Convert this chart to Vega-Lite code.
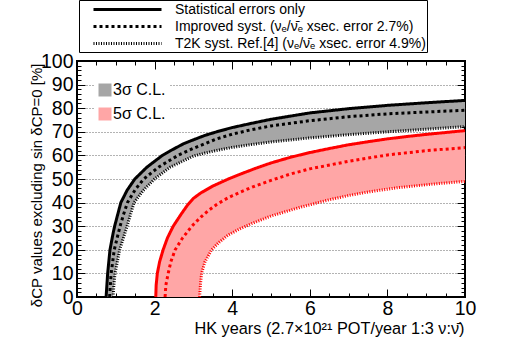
{
  "$schema": "https://vega.github.io/schema/vega-lite/v6.json",
  "width": 388,
  "height": 236,
  "autosize": {"type": "none"},
  "padding": {"left": 77, "top": 61, "right": 53, "bottom": 53},
  "background": "white",
  "config": {
    "font": "Liberation Sans",
    "view": {"stroke": "black", "strokeWidth": 2},
    "axis": {"domain": false, "labelFont": "Liberation Sans", "labelFontSize": 19.5, "labelColor": "black", "tickColor": "black", "tickWidth": 1, "titleFont": "Liberation Sans", "titleColor": "black", "titleFontWeight": "normal", "grid": false, "labelFlush": false, "labelOverlap": false},
    "legend": {"labelFont": "Liberation Sans", "labelColor": "black"}
  },
  "datasets": {
    "systs": [
      {"s": "stat", "label": "Statistical errors only"},
      {"s": "imp", "label": "Improved syst. (\u03bd\u2091/\u03bd\u0304\u2091 xsec. error 2.7%)"},
      {"s": "t2k", "label": "T2K syst. Ref.[4] (\u03bd\u2091/\u03bd\u0304\u2091 xsec. error 4.9%)"}
    ],
    "bands": [
      {"c": "3σ C.L.", "x": 0.75, "hi": 0, "lo": 0},
      {"c": "3σ C.L.", "x": 0.77, "hi": 5, "lo": 0},
      {"c": "3σ C.L.", "x": 0.79, "hi": 10, "lo": 0},
      {"c": "3σ C.L.", "x": 0.85, "hi": 20, "lo": 0},
      {"c": "3σ C.L.", "x": 0.93, "hi": 27, "lo": 0},
      {"c": "3σ C.L.", "x": 0.95, "hi": 28.5, "lo": 5},
      {"c": "3σ C.L.", "x": 0.97, "hi": 30, "lo": 8},
      {"c": "3σ C.L.", "x": 0.98, "hi": 30.6, "lo": 10},
      {"c": "3σ C.L.", "x": 1.05, "hi": 35, "lo": 16},
      {"c": "3σ C.L.", "x": 1.1, "hi": 37.8, "lo": 20},
      {"c": "3σ C.L.", "x": 1.13, "hi": 40, "lo": 21.6},
      {"c": "3σ C.L.", "x": 1.29, "hi": 45.2, "lo": 30},
      {"c": "3σ C.L.", "x": 1.38, "hi": 47.5, "lo": 35},
      {"c": "3σ C.L.", "x": 1.47, "hi": 49.6, "lo": 40},
      {"c": "3σ C.L.", "x": 1.49, "hi": 50, "lo": 40.4},
      {"c": "3σ C.L.", "x": 1.7, "hi": 53.5, "lo": 45},
      {"c": "3σ C.L.", "x": 1.8, "hi": 55, "lo": 46.7},
      {"c": "3σ C.L.", "x": 2.0, "hi": 57.5, "lo": 50},
      {"c": "3σ C.L.", "x": 2.2, "hi": 60, "lo": 52.5},
      {"c": "3σ C.L.", "x": 2.4, "hi": 61.9, "lo": 55},
      {"c": "3σ C.L.", "x": 2.74, "hi": 64.9, "lo": 57.6},
      {"c": "3σ C.L.", "x": 3.0, "hi": 66.6, "lo": 59.7},
      {"c": "3σ C.L.", "x": 3.3, "hi": 68.5, "lo": 61},
      {"c": "3σ C.L.", "x": 3.6, "hi": 70, "lo": 62.1},
      {"c": "3σ C.L.", "x": 4.0, "hi": 71.8, "lo": 63.4},
      {"c": "3σ C.L.", "x": 4.5, "hi": 73.6, "lo": 64.6},
      {"c": "3σ C.L.", "x": 5.0, "hi": 75.3, "lo": 65.7},
      {"c": "3σ C.L.", "x": 6.0, "hi": 78, "lo": 67.4},
      {"c": "3σ C.L.", "x": 7.0, "hi": 79.8, "lo": 68.8},
      {"c": "3σ C.L.", "x": 8.0, "hi": 81.2, "lo": 70},
      {"c": "3σ C.L.", "x": 9.0, "hi": 82.3, "lo": 71.1},
      {"c": "3σ C.L.", "x": 10, "hi": 83.3, "lo": 72.2},
      {"c": "5σ C.L.", "x": 2.03, "hi": 0, "lo": 0},
      {"c": "5σ C.L.", "x": 2.04, "hi": 5, "lo": 0},
      {"c": "5σ C.L.", "x": 2.07, "hi": 10, "lo": 0},
      {"c": "5σ C.L.", "x": 2.13, "hi": 15, "lo": 0},
      {"c": "5σ C.L.", "x": 2.22, "hi": 20, "lo": 0},
      {"c": "5σ C.L.", "x": 2.33, "hi": 25, "lo": 0},
      {"c": "5σ C.L.", "x": 2.48, "hi": 30, "lo": 0},
      {"c": "5σ C.L.", "x": 2.68, "hi": 35, "lo": 0},
      {"c": "5σ C.L.", "x": 2.85, "hi": 39, "lo": 0},
      {"c": "5σ C.L.", "x": 3.0, "hi": 41.8, "lo": 0},
      {"c": "5σ C.L.", "x": 3.16, "hi": 43.7, "lo": 0},
      {"c": "5σ C.L.", "x": 3.18, "hi": 43.95, "lo": 5},
      {"c": "5σ C.L.", "x": 3.2, "hi": 44.2, "lo": 8.3},
      {"c": "5σ C.L.", "x": 3.21, "hi": 44.3, "lo": 10},
      {"c": "5σ C.L.", "x": 3.3, "hi": 45.1, "lo": 15},
      {"c": "5σ C.L.", "x": 3.47, "hi": 46.7, "lo": 20},
      {"c": "5σ C.L.", "x": 3.5, "hi": 47, "lo": 20.5},
      {"c": "5σ C.L.", "x": 3.65, "hi": 48.1, "lo": 23},
      {"c": "5σ C.L.", "x": 3.9, "hi": 50, "lo": 26.3},
      {"c": "5σ C.L.", "x": 4.2, "hi": 52, "lo": 28.9},
      {"c": "5σ C.L.", "x": 4.5, "hi": 53.9, "lo": 31.1},
      {"c": "5σ C.L.", "x": 4.6, "hi": 54.5, "lo": 31.7},
      {"c": "5σ C.L.", "x": 5.0, "hi": 56.8, "lo": 34.3},
      {"c": "5σ C.L.", "x": 5.5, "hi": 59.2, "lo": 36.8},
      {"c": "5σ C.L.", "x": 5.75, "hi": 60.2, "lo": 38},
      {"c": "5σ C.L.", "x": 6.0, "hi": 61.2, "lo": 39.1},
      {"c": "5σ C.L.", "x": 6.5, "hi": 62.9, "lo": 41.2},
      {"c": "5σ C.L.", "x": 7.0, "hi": 64.5, "lo": 43},
      {"c": "5σ C.L.", "x": 7.5, "hi": 65.8, "lo": 44.5},
      {"c": "5σ C.L.", "x": 8.0, "hi": 67, "lo": 45.9},
      {"c": "5σ C.L.", "x": 8.3, "hi": 67.6, "lo": 46.4},
      {"c": "5σ C.L.", "x": 8.5, "hi": 68, "lo": 46.7},
      {"c": "5σ C.L.", "x": 9.0, "hi": 68.9, "lo": 47.5},
      {"c": "5σ C.L.", "x": 9.2, "hi": 69.2, "lo": 47.9},
      {"c": "5σ C.L.", "x": 9.5, "hi": 69.7, "lo": 48.3},
      {"c": "5σ C.L.", "x": 10, "hi": 70.5, "lo": 49}
    ],
    "curves": [
      {"c": "3σ C.L.", "s": "stat", "x": 0.75, "y": 0},
      {"c": "3σ C.L.", "s": "stat", "x": 0.77, "y": 5},
      {"c": "3σ C.L.", "s": "stat", "x": 0.79, "y": 10},
      {"c": "3σ C.L.", "s": "stat", "x": 0.85, "y": 20},
      {"c": "3σ C.L.", "s": "stat", "x": 0.93, "y": 27},
      {"c": "3σ C.L.", "s": "stat", "x": 0.97, "y": 30},
      {"c": "3σ C.L.", "s": "stat", "x": 1.05, "y": 35},
      {"c": "3σ C.L.", "s": "stat", "x": 1.13, "y": 40},
      {"c": "3σ C.L.", "s": "stat", "x": 1.29, "y": 45.2},
      {"c": "3σ C.L.", "s": "stat", "x": 1.49, "y": 50},
      {"c": "3σ C.L.", "s": "stat", "x": 1.8, "y": 55},
      {"c": "3σ C.L.", "s": "stat", "x": 2.0, "y": 57.5},
      {"c": "3σ C.L.", "s": "stat", "x": 2.2, "y": 60},
      {"c": "3σ C.L.", "s": "stat", "x": 2.4, "y": 61.9},
      {"c": "3σ C.L.", "s": "stat", "x": 2.74, "y": 64.9},
      {"c": "3σ C.L.", "s": "stat", "x": 3.0, "y": 66.6},
      {"c": "3σ C.L.", "s": "stat", "x": 3.3, "y": 68.5},
      {"c": "3σ C.L.", "s": "stat", "x": 3.6, "y": 70},
      {"c": "3σ C.L.", "s": "stat", "x": 4.0, "y": 71.8},
      {"c": "3σ C.L.", "s": "stat", "x": 4.5, "y": 73.6},
      {"c": "3σ C.L.", "s": "stat", "x": 5, "y": 75.3},
      {"c": "3σ C.L.", "s": "stat", "x": 6, "y": 78},
      {"c": "3σ C.L.", "s": "stat", "x": 7, "y": 79.8},
      {"c": "3σ C.L.", "s": "stat", "x": 8, "y": 81.2},
      {"c": "3σ C.L.", "s": "stat", "x": 9, "y": 82.3},
      {"c": "3σ C.L.", "s": "stat", "x": 10, "y": 83.3},
      {"c": "3σ C.L.", "s": "imp", "x": 0.84, "y": 0},
      {"c": "3σ C.L.", "s": "imp", "x": 0.86, "y": 5},
      {"c": "3σ C.L.", "s": "imp", "x": 0.88, "y": 10},
      {"c": "3σ C.L.", "s": "imp", "x": 0.96, "y": 20},
      {"c": "3σ C.L.", "s": "imp", "x": 1.11, "y": 30},
      {"c": "3σ C.L.", "s": "imp", "x": 1.2, "y": 35},
      {"c": "3σ C.L.", "s": "imp", "x": 1.3, "y": 40},
      {"c": "3σ C.L.", "s": "imp", "x": 1.5, "y": 45.5},
      {"c": "3σ C.L.", "s": "imp", "x": 1.72, "y": 50},
      {"c": "3σ C.L.", "s": "imp", "x": 2.1, "y": 55},
      {"c": "3σ C.L.", "s": "imp", "x": 2.6, "y": 60},
      {"c": "3σ C.L.", "s": "imp", "x": 3.0, "y": 63},
      {"c": "3σ C.L.", "s": "imp", "x": 3.3, "y": 65},
      {"c": "3σ C.L.", "s": "imp", "x": 3.6, "y": 67},
      {"c": "3σ C.L.", "s": "imp", "x": 4.0, "y": 69},
      {"c": "3σ C.L.", "s": "imp", "x": 4.5, "y": 70.9},
      {"c": "3σ C.L.", "s": "imp", "x": 5, "y": 72.5},
      {"c": "3σ C.L.", "s": "imp", "x": 6, "y": 74.7},
      {"c": "3σ C.L.", "s": "imp", "x": 7, "y": 76.4},
      {"c": "3σ C.L.", "s": "imp", "x": 8, "y": 77.6},
      {"c": "3σ C.L.", "s": "imp", "x": 9, "y": 78.4},
      {"c": "3σ C.L.", "s": "imp", "x": 10, "y": 79.1},
      {"c": "3σ C.L.", "s": "t2k", "x": 0.93, "y": 0},
      {"c": "3σ C.L.", "s": "t2k", "x": 0.95, "y": 5},
      {"c": "3σ C.L.", "s": "t2k", "x": 0.98, "y": 10},
      {"c": "3σ C.L.", "s": "t2k", "x": 1.1, "y": 20},
      {"c": "3σ C.L.", "s": "t2k", "x": 1.29, "y": 30},
      {"c": "3σ C.L.", "s": "t2k", "x": 1.38, "y": 35},
      {"c": "3σ C.L.", "s": "t2k", "x": 1.47, "y": 40},
      {"c": "3σ C.L.", "s": "t2k", "x": 1.7, "y": 45},
      {"c": "3σ C.L.", "s": "t2k", "x": 2.0, "y": 50},
      {"c": "3σ C.L.", "s": "t2k", "x": 2.4, "y": 55},
      {"c": "3σ C.L.", "s": "t2k", "x": 3.0, "y": 59.7},
      {"c": "3σ C.L.", "s": "t2k", "x": 3.3, "y": 61},
      {"c": "3σ C.L.", "s": "t2k", "x": 3.6, "y": 62.1},
      {"c": "3σ C.L.", "s": "t2k", "x": 4.0, "y": 63.4},
      {"c": "3σ C.L.", "s": "t2k", "x": 4.5, "y": 64.6},
      {"c": "3σ C.L.", "s": "t2k", "x": 5, "y": 65.7},
      {"c": "3σ C.L.", "s": "t2k", "x": 6, "y": 67.4},
      {"c": "3σ C.L.", "s": "t2k", "x": 7, "y": 68.8},
      {"c": "3σ C.L.", "s": "t2k", "x": 8, "y": 70},
      {"c": "3σ C.L.", "s": "t2k", "x": 9, "y": 71.1},
      {"c": "3σ C.L.", "s": "t2k", "x": 10, "y": 72.2},
      {"c": "5σ C.L.", "s": "stat", "x": 2.03, "y": 0},
      {"c": "5σ C.L.", "s": "stat", "x": 2.04, "y": 5},
      {"c": "5σ C.L.", "s": "stat", "x": 2.07, "y": 10},
      {"c": "5σ C.L.", "s": "stat", "x": 2.13, "y": 15},
      {"c": "5σ C.L.", "s": "stat", "x": 2.22, "y": 20},
      {"c": "5σ C.L.", "s": "stat", "x": 2.33, "y": 25},
      {"c": "5σ C.L.", "s": "stat", "x": 2.48, "y": 30},
      {"c": "5σ C.L.", "s": "stat", "x": 2.68, "y": 35},
      {"c": "5σ C.L.", "s": "stat", "x": 2.85, "y": 39},
      {"c": "5σ C.L.", "s": "stat", "x": 3.0, "y": 41.8},
      {"c": "5σ C.L.", "s": "stat", "x": 3.2, "y": 44.2},
      {"c": "5σ C.L.", "s": "stat", "x": 3.5, "y": 47},
      {"c": "5σ C.L.", "s": "stat", "x": 3.9, "y": 50},
      {"c": "5σ C.L.", "s": "stat", "x": 4.2, "y": 52},
      {"c": "5σ C.L.", "s": "stat", "x": 4.6, "y": 54.5},
      {"c": "5σ C.L.", "s": "stat", "x": 5, "y": 56.8},
      {"c": "5σ C.L.", "s": "stat", "x": 5.5, "y": 59.2},
      {"c": "5σ C.L.", "s": "stat", "x": 6, "y": 61.2},
      {"c": "5σ C.L.", "s": "stat", "x": 6.5, "y": 62.9},
      {"c": "5σ C.L.", "s": "stat", "x": 7, "y": 64.5},
      {"c": "5σ C.L.", "s": "stat", "x": 7.5, "y": 65.8},
      {"c": "5σ C.L.", "s": "stat", "x": 8, "y": 67},
      {"c": "5σ C.L.", "s": "stat", "x": 8.5, "y": 68},
      {"c": "5σ C.L.", "s": "stat", "x": 9, "y": 68.9},
      {"c": "5σ C.L.", "s": "stat", "x": 9.5, "y": 69.7},
      {"c": "5σ C.L.", "s": "stat", "x": 10, "y": 70.5},
      {"c": "5σ C.L.", "s": "imp", "x": 2.27, "y": 0},
      {"c": "5σ C.L.", "s": "imp", "x": 2.29, "y": 5},
      {"c": "5σ C.L.", "s": "imp", "x": 2.35, "y": 10},
      {"c": "5σ C.L.", "s": "imp", "x": 2.42, "y": 15},
      {"c": "5σ C.L.", "s": "imp", "x": 2.53, "y": 20},
      {"c": "5σ C.L.", "s": "imp", "x": 2.72, "y": 25},
      {"c": "5σ C.L.", "s": "imp", "x": 2.96, "y": 30},
      {"c": "5σ C.L.", "s": "imp", "x": 3.2, "y": 34},
      {"c": "5σ C.L.", "s": "imp", "x": 3.4, "y": 36.8},
      {"c": "5σ C.L.", "s": "imp", "x": 3.6, "y": 39.2},
      {"c": "5σ C.L.", "s": "imp", "x": 3.8, "y": 41.2},
      {"c": "5σ C.L.", "s": "imp", "x": 4.0, "y": 42.9},
      {"c": "5σ C.L.", "s": "imp", "x": 4.3, "y": 45.1},
      {"c": "5σ C.L.", "s": "imp", "x": 4.6, "y": 47.1},
      {"c": "5σ C.L.", "s": "imp", "x": 5, "y": 49.4},
      {"c": "5σ C.L.", "s": "imp", "x": 5.5, "y": 52.1},
      {"c": "5σ C.L.", "s": "imp", "x": 6, "y": 54.3},
      {"c": "5σ C.L.", "s": "imp", "x": 7, "y": 57.5},
      {"c": "5σ C.L.", "s": "imp", "x": 8, "y": 60.2},
      {"c": "5σ C.L.", "s": "imp", "x": 9, "y": 62},
      {"c": "5σ C.L.", "s": "imp", "x": 10, "y": 63.3},
      {"c": "5σ C.L.", "s": "t2k", "x": 3.16, "y": 0},
      {"c": "5σ C.L.", "s": "t2k", "x": 3.18, "y": 5},
      {"c": "5σ C.L.", "s": "t2k", "x": 3.21, "y": 10},
      {"c": "5σ C.L.", "s": "t2k", "x": 3.3, "y": 15},
      {"c": "5σ C.L.", "s": "t2k", "x": 3.47, "y": 20},
      {"c": "5σ C.L.", "s": "t2k", "x": 3.65, "y": 23},
      {"c": "5σ C.L.", "s": "t2k", "x": 3.9, "y": 26.3},
      {"c": "5σ C.L.", "s": "t2k", "x": 4.2, "y": 28.9},
      {"c": "5σ C.L.", "s": "t2k", "x": 4.5, "y": 31.1},
      {"c": "5σ C.L.", "s": "t2k", "x": 5, "y": 34.3},
      {"c": "5σ C.L.", "s": "t2k", "x": 5.75, "y": 38},
      {"c": "5σ C.L.", "s": "t2k", "x": 6.5, "y": 41.2},
      {"c": "5σ C.L.", "s": "t2k", "x": 7, "y": 43},
      {"c": "5σ C.L.", "s": "t2k", "x": 7.5, "y": 44.5},
      {"c": "5σ C.L.", "s": "t2k", "x": 8.3, "y": 46.4},
      {"c": "5σ C.L.", "s": "t2k", "x": 9.2, "y": 47.9},
      {"c": "5σ C.L.", "s": "t2k", "x": 10, "y": 49}
    ]
  },
  "resolve": {"axis": {"x": "independent", "y": "independent"}},
  "layer": [
    {
      "data": {"name": "bands"},
      "mark": {"type": "area", "opacity": 1},
      "encoding": {
        "x": {"field": "x", "type": "quantitative", "scale": {"domain": [0, 10], "nice": false, "zero": false},
          "axis": {"orient": "bottom", "values": [0, 2, 4, 6, 8, 10], "tickSize": -8, "labelPadding": 10, "grid": false,
            "title": "HK years (2.7\u00d710\u00b2\u00b9 POT/year 1:3 \u03bd:\u03bd\u0304)", "titleFontSize": 16.3, "titleAnchor": "end", "titleAlign": "right", "titleBaseline": "alphabetic", "titleX": 387, "titleY": 36}},
        "y": {"field": "hi", "type": "quantitative", "scale": {"domain": [0, 100], "nice": false, "zero": false},
          "axis": {"orient": "left", "values": [0, 10, 20, 30, 40, 50, 60, 70, 80, 90, 100], "tickSize": -8, "labelPadding": 12,
            "grid": true, "gridColor": "#666666", "gridDash": [1, 2], "gridWidth": 1,
            "gridOpacity": {"condition": {"test": "datum.value == 0 || datum.value == 100", "value": 0}, "value": 1},
            "title": "\u03b4CP values excluding sin \u03b4CP=0 [%]", "titleFontSize": 15, "titleAngle": 270, "titleAnchor": "end", "titleAlign": "right", "titleBaseline": "alphabetic", "titleX": -36, "titleY": 2}},
        "y2": {"field": "lo"},
        "fill": {"field": "c", "type": "nominal", "scale": {"domain": ["3σ C.L.", "5σ C.L."], "range": ["#a6a6a6", "#ffa6a6"]},
          "legend": {"orient": "none", "legendX": 17, "legendY": 18, "title": null, "symbolType": "square", "symbolSize": 169, "symbolStrokeWidth": 0, "symbolOpacity": 1,
            "labelFontSize": 16, "labelOffset": 0, "rowPadding": 8, "padding": 3, "fillColor": "white"}}
      }
    },
    {
      "data": {"name": "curves"},
      "transform": [{"filter": "datum.s == 'stat'"}, {"lookup": "s", "from": {"data": {"name": "systs"}, "key": "s", "fields": ["label"]}}],
      "mark": {"type": "line", "strokeWidth": 3},
      "encoding": {
        "x": {"field": "x", "type": "quantitative", "scale": {"domain": [0, 10], "nice": false, "zero": false},
          "axis": {"orient": "bottom", "values": [0, 0.5, 1, 1.5, 2, 2.5, 3, 3.5, 4, 4.5, 5, 5.5, 6, 6.5, 7, 7.5, 8, 8.5, 9, 9.5, 10], "tickSize": -4, "labels": false, "title": null, "grid": false}},
        "y": {"field": "y", "type": "quantitative", "scale": {"domain": [0, 100], "nice": false, "zero": false},
          "axis": {"orient": "left", "values": [0, 2, 4, 6, 8, 10, 12, 14, 16, 18, 20, 22, 24, 26, 28, 30, 32, 34, 36, 38, 40, 42, 44, 46, 48, 50, 52, 54, 56, 58, 60, 62, 64, 66, 68, 70, 72, 74, 76, 78, 80, 82, 84, 86, 88, 90, 92, 94, 96, 98, 100], "tickSize": -4, "labels": false, "title": null, "grid": false}},
        "stroke": {"field": "c", "type": "nominal", "scale": {"domain": ["3σ C.L.", "5σ C.L."], "range": ["#000000", "#ff0000"]}, "legend": null},
        "strokeDash": {"field": "label", "type": "nominal",
          "scale": {"domain": ["Statistical errors only", "Improved syst. (\u03bd\u2091/\u03bd\u0304\u2091 xsec. error 2.7%)", "T2K syst. Ref.[4] (\u03bd\u2091/\u03bd\u0304\u2091 xsec. error 4.9%)"], "range": [[1, 0], [3, 3], [1, 1.5]]},
          "legend": {"orient": "none", "legendX": 2, "legendY": -61, "title": null, "direction": "vertical",
            "symbolType": "M-5,0H5", "symbolSize": 185, "symbolStrokeColor": "black", "symbolStrokeWidth": 3, "symbolFillColor": "transparent", "symbolOffset": 39,
            "labelOffset": 39, "labelFontSize": 14, "labelLimit": 600, "rowPadding": 1, "padding": 1,
            "strokeColor": "black", "fillColor": "white",
            "labelExpr": "datum.label + '\u00a0\u00a0\u00a0\u00a0\u00a0\u00a0\u00a0\u00a0\u00a0'"}}
      }
    },
    {
      "data": {"name": "curves"},
      "transform": [{"filter": "datum.s == 'imp'"}, {"lookup": "s", "from": {"data": {"name": "systs"}, "key": "s", "fields": ["label"]}}],
      "mark": {"type": "line", "strokeWidth": 3},
      "encoding": {
        "x": {"field": "x", "type": "quantitative", "scale": {"domain": [0, 10], "nice": false, "zero": false},
          "axis": {"orient": "top", "values": [0, 2, 4, 6, 8, 10], "tickSize": -8, "labels": false, "title": null, "grid": false}},
        "y": {"field": "y", "type": "quantitative", "scale": {"domain": [0, 100], "nice": false, "zero": false},
          "axis": {"orient": "right", "values": [0, 10, 20, 30, 40, 50, 60, 70, 80, 90, 100], "tickSize": -8, "labels": false, "title": null, "grid": false}},
        "stroke": {"field": "c", "type": "nominal", "scale": {"domain": ["3σ C.L.", "5σ C.L."], "range": ["#000000", "#ff0000"]}, "legend": null},
        "strokeDash": {"field": "label", "type": "nominal",
          "scale": {"domain": ["Statistical errors only", "Improved syst. (\u03bd\u2091/\u03bd\u0304\u2091 xsec. error 2.7%)", "T2K syst. Ref.[4] (\u03bd\u2091/\u03bd\u0304\u2091 xsec. error 4.9%)"], "range": [[1, 0], [3, 3], [1, 1.5]]},
          "legend": {"orient": "none", "legendX": 2, "legendY": -61, "title": null, "direction": "vertical",
            "symbolType": "M-5,0H5", "symbolSize": 185, "symbolStrokeColor": "black", "symbolStrokeWidth": 3, "symbolFillColor": "transparent", "symbolOffset": 39,
            "labelOffset": 39, "labelFontSize": 14, "labelLimit": 600, "rowPadding": 1, "padding": 1,
            "strokeColor": "black", "fillColor": "white",
            "labelExpr": "datum.label + '\u00a0\u00a0\u00a0\u00a0\u00a0\u00a0\u00a0\u00a0\u00a0'"}}
      }
    },
    {
      "data": {"name": "curves"},
      "transform": [{"filter": "datum.s == 't2k'"}, {"lookup": "s", "from": {"data": {"name": "systs"}, "key": "s", "fields": ["label"]}}],
      "mark": {"type": "line", "strokeWidth": 3},
      "encoding": {
        "x": {"field": "x", "type": "quantitative", "scale": {"domain": [0, 10], "nice": false, "zero": false},
          "axis": {"orient": "top", "values": [0, 0.5, 1, 1.5, 2, 2.5, 3, 3.5, 4, 4.5, 5, 5.5, 6, 6.5, 7, 7.5, 8, 8.5, 9, 9.5, 10], "tickSize": -4, "labels": false, "title": null, "grid": false}},
        "y": {"field": "y", "type": "quantitative", "scale": {"domain": [0, 100], "nice": false, "zero": false},
          "axis": {"orient": "right", "values": [0, 2, 4, 6, 8, 10, 12, 14, 16, 18, 20, 22, 24, 26, 28, 30, 32, 34, 36, 38, 40, 42, 44, 46, 48, 50, 52, 54, 56, 58, 60, 62, 64, 66, 68, 70, 72, 74, 76, 78, 80, 82, 84, 86, 88, 90, 92, 94, 96, 98, 100], "tickSize": -4, "labels": false, "title": null, "grid": false}},
        "stroke": {"field": "c", "type": "nominal", "scale": {"domain": ["3σ C.L.", "5σ C.L."], "range": ["#000000", "#ff0000"]}, "legend": null},
        "strokeDash": {"field": "label", "type": "nominal",
          "scale": {"domain": ["Statistical errors only", "Improved syst. (\u03bd\u2091/\u03bd\u0304\u2091 xsec. error 2.7%)", "T2K syst. Ref.[4] (\u03bd\u2091/\u03bd\u0304\u2091 xsec. error 4.9%)"], "range": [[1, 0], [3, 3], [1, 1.5]]},
          "legend": {"orient": "none", "legendX": 2, "legendY": -61, "title": null, "direction": "vertical",
            "symbolType": "M-5,0H5", "symbolSize": 185, "symbolStrokeColor": "black", "symbolStrokeWidth": 3, "symbolFillColor": "transparent", "symbolOffset": 39,
            "labelOffset": 39, "labelFontSize": 14, "labelLimit": 600, "rowPadding": 1, "padding": 1,
            "strokeColor": "black", "fillColor": "white",
            "labelExpr": "datum.label + '\u00a0\u00a0\u00a0\u00a0\u00a0\u00a0\u00a0\u00a0\u00a0'"}}
      }
    }
  ]
}
